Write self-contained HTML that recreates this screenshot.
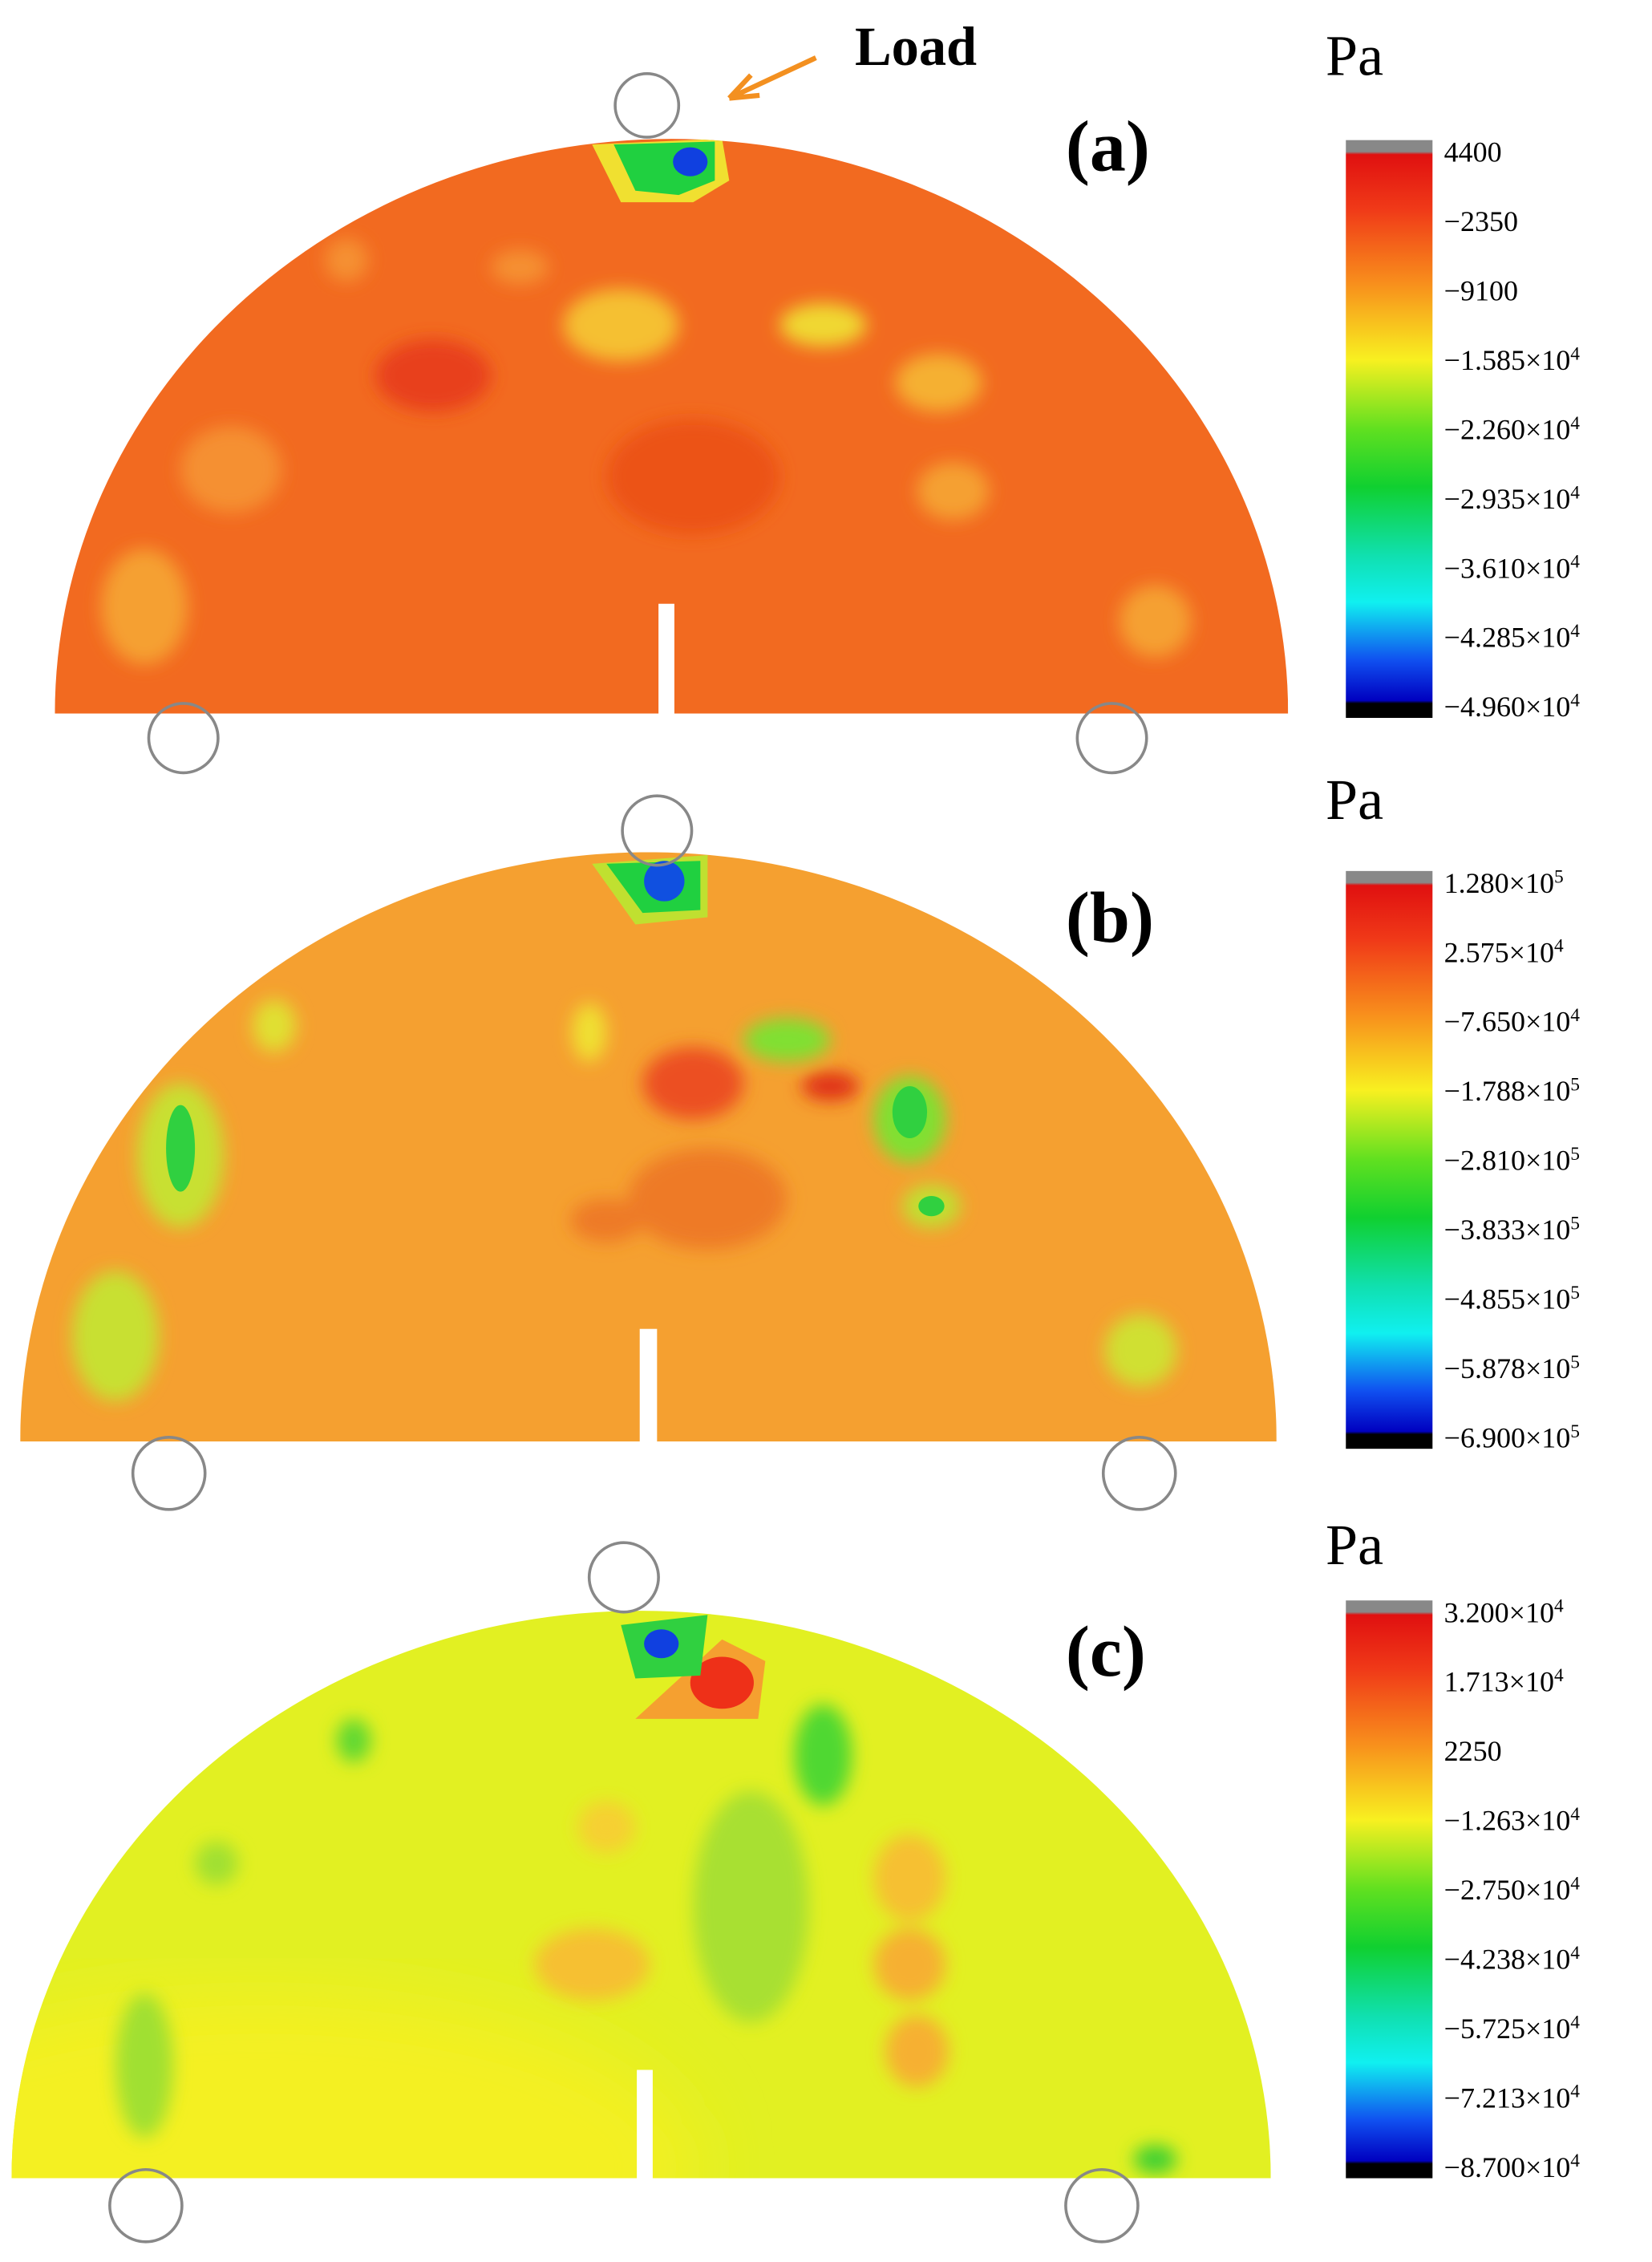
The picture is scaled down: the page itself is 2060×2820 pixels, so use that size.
<!DOCTYPE html>
<html><head><meta charset="utf-8"><style>html,body{margin:0;padding:0;background:#fff}svg{display:block}</style></head>
<body>
<svg width="2060" height="2820" viewBox="0 0 1144 1566" preserveAspectRatio="none" xmlns="http://www.w3.org/2000/svg" font-family="Liberation Serif, serif">
<defs>
<linearGradient id="cb" x1="0" y1="0" x2="0" y2="1">
<stop offset="0" stop-color="#888"/><stop offset="0.02" stop-color="#888"/>
<stop offset="0.025" stop-color="#e01010"/><stop offset="0.12" stop-color="#f03a18"/>
<stop offset="0.25" stop-color="#f8901c"/><stop offset="0.38" stop-color="#f8f020"/>
<stop offset="0.5" stop-color="#60e020"/><stop offset="0.6" stop-color="#10d030"/>
<stop offset="0.72" stop-color="#10e0b0"/><stop offset="0.8" stop-color="#10f0f0"/>
<stop offset="0.9" stop-color="#1050f0"/><stop offset="0.97" stop-color="#0000c0"/>
<stop offset="0.975" stop-color="#000"/><stop offset="1" stop-color="#000"/>
</linearGradient>
<clipPath id="ca"><path d="M38 494 A427 398 0 0 1 892 494 Z"/></clipPath>
<clipPath id="cbp"><path d="M14 998 A435 408 0 0 1 884 998 Z"/></clipPath>
<clipPath id="cc"><path d="M8 1508 A436 393 0 0 1 880 1508 Z"/></clipPath>
<filter id="bl"><feGaussianBlur stdDeviation="6"/></filter>
<filter id="bl2"><feGaussianBlur stdDeviation="25"/></filter>
</defs>

<!-- (a) -->
<g clip-path="url(#ca)">
<rect x="0" y="90" width="900" height="410" fill="#f26a20"/>
<g filter="url(#bl)">
<ellipse cx="300" cy="260" rx="40" ry="25" fill="#e8401a"/>
<ellipse cx="480" cy="330" rx="60" ry="40" fill="#ec5218"/>
<ellipse cx="430" cy="225" rx="40" ry="25" fill="#f5c030"/>
<ellipse cx="570" cy="225" rx="30" ry="15" fill="#f0d830"/>
<ellipse cx="650" cy="265" rx="30" ry="20" fill="#f5b030"/>
<ellipse cx="160" cy="325" rx="35" ry="30" fill="#f59030"/>
<ellipse cx="100" cy="420" rx="30" ry="40" fill="#f5a030"/>
<ellipse cx="660" cy="340" rx="25" ry="20" fill="#f5a030"/>
<ellipse cx="800" cy="430" rx="25" ry="25" fill="#f5a030"/>
<ellipse cx="240" cy="180" rx="15" ry="15" fill="#f59030"/>
<ellipse cx="360" cy="185" rx="20" ry="12" fill="#f59030"/>
</g>
<path d="M410 100 L500 96 L505 125 L480 140 L430 140 Z" fill="#f0e030"/>
<path d="M425 100 L495 98 L495 125 L470 135 L440 132 Z" fill="#20d040"/>
<ellipse cx="478" cy="112" rx="12" ry="10" fill="#1040e0"/>
</g>
<rect x="456" y="418" width="11" height="78" fill="#fff"/>
<circle cx="448" cy="73" r="22" fill="none" stroke="#888" stroke-width="2"/>
<circle cx="127" cy="511" r="24" fill="none" stroke="#888" stroke-width="2"/>
<circle cx="770" cy="511" r="24" fill="none" stroke="#888" stroke-width="2"/>
<text x="592" y="45" font-size="38" font-weight="bold">Load</text>
<path d="M565 40 L505 68 M505 68 L520 52 M505 68 L526 66" stroke="#f39020" stroke-width="3.5" fill="none"/>
<text x="738" y="118" font-size="50" font-weight="bold">(a)</text>

<!-- (b) -->
<g clip-path="url(#cbp)">
<rect x="0" y="585" width="900" height="420" fill="#f5a030"/>
<g filter="url(#bl)">
<ellipse cx="490" cy="830" rx="55" ry="35" fill="#ee7a25"/>
<ellipse cx="480" cy="750" rx="35" ry="25" fill="#ec5020"/>
<ellipse cx="575" cy="752" rx="20" ry="10" fill="#e03018"/>
<ellipse cx="420" cy="845" rx="25" ry="15" fill="#ee7a25"/>
<ellipse cx="125" cy="800" rx="30" ry="50" fill="#c8e030"/>
<ellipse cx="80" cy="925" rx="30" ry="45" fill="#c8e030"/>
<ellipse cx="790" cy="935" rx="25" ry="25" fill="#d0e030"/>
<ellipse cx="630" cy="775" rx="25" ry="30" fill="#80e030"/>
<ellipse cx="545" cy="720" rx="30" ry="15" fill="#80e030"/>
<ellipse cx="645" cy="835" rx="20" ry="15" fill="#c0e030"/>
<ellipse cx="190" cy="710" rx="15" ry="18" fill="#e0e030"/>
<ellipse cx="408" cy="715" rx="12" ry="20" fill="#f0e030"/>
</g>
<ellipse cx="125" cy="795" rx="10" ry="30" fill="#30d040"/>
<ellipse cx="630" cy="770" rx="12" ry="18" fill="#30d040"/>
<ellipse cx="645" cy="835" rx="9" ry="7" fill="#30d040"/>
<path d="M410 598 L490 592 L490 635 L440 640 Z" fill="#c0e030"/>
<path d="M420 598 L485 596 L485 630 L445 632 Z" fill="#20d040"/>
<ellipse cx="460" cy="610" rx="14" ry="14" fill="#1050e0"/>
</g>
<rect x="443" y="920" width="12" height="80" fill="#fff"/>
<circle cx="455" cy="575" r="24" fill="none" stroke="#888" stroke-width="2"/>
<circle cx="117" cy="1020" r="25" fill="none" stroke="#888" stroke-width="2"/>
<circle cx="789" cy="1020" r="25" fill="none" stroke="#888" stroke-width="2"/>
<text x="738" y="652" font-size="50" font-weight="bold">(b)</text>

<!-- (c) -->
<g clip-path="url(#cc)">
<rect x="0" y="1110" width="900" height="400" fill="#e2f022"/>
<ellipse cx="180" cy="1500" rx="300" ry="120" fill="#f4f020" filter="url(#bl2)"/>
<g filter="url(#bl)">
<ellipse cx="410" cy="1360" rx="40" ry="25" fill="#f6c030"/>
<ellipse cx="630" cy="1300" rx="25" ry="30" fill="#f6c030"/>
<ellipse cx="630" cy="1360" rx="25" ry="25" fill="#f6b030"/>
<ellipse cx="635" cy="1420" rx="22" ry="25" fill="#f6b030"/>
<ellipse cx="420" cy="1265" rx="20" ry="18" fill="#f6d030"/>
<ellipse cx="520" cy="1320" rx="40" ry="80" fill="#a8e030"/>
<ellipse cx="570" cy="1215" rx="20" ry="35" fill="#50d830"/>
<ellipse cx="100" cy="1430" rx="20" ry="50" fill="#a0e030"/>
<ellipse cx="150" cy="1290" rx="15" ry="15" fill="#a0e030"/>
<ellipse cx="245" cy="1205" rx="12" ry="15" fill="#60d830"/>
<ellipse cx="800" cy="1495" rx="15" ry="10" fill="#40d030"/>
</g>
<path d="M440 1190 L500 1135 L530 1150 L525 1190 Z" fill="#f5a030"/>
<ellipse cx="500" cy="1165" rx="22" ry="18" fill="#ee3018"/>
<path d="M430 1125 L490 1118 L485 1160 L440 1162 Z" fill="#30d040"/>
<ellipse cx="458" cy="1138" rx="12" ry="10" fill="#1040e0"/>
</g>
<rect x="441" y="1433" width="11" height="77" fill="#fff"/>
<circle cx="432" cy="1092" r="24" fill="none" stroke="#888" stroke-width="2"/>
<circle cx="101" cy="1527" r="25" fill="none" stroke="#888" stroke-width="2"/>
<circle cx="763" cy="1527" r="25" fill="none" stroke="#888" stroke-width="2"/>
<text x="738" y="1160" font-size="50" font-weight="bold">(c)</text>

<!-- colorbars -->
<g font-size="20">
<text x="918" y="52" font-size="40">Pa</text>
<rect x="932" y="97" width="60" height="400" fill="url(#cb)"/>
<text x="1000" y="112">4400</text>
<text x="1000" y="160">−2350</text>
<text x="1000" y="208">−9100</text>
<text x="1000" y="256">−1.585×10<tspan font-size="13" dy="-7">4</tspan></text>
<text x="1000" y="304">−2.260×10<tspan font-size="13" dy="-7">4</tspan></text>
<text x="1000" y="352">−2.935×10<tspan font-size="13" dy="-7">4</tspan></text>
<text x="1000" y="400">−3.610×10<tspan font-size="13" dy="-7">4</tspan></text>
<text x="1000" y="448">−4.285×10<tspan font-size="13" dy="-7">4</tspan></text>
<text x="1000" y="496">−4.960×10<tspan font-size="13" dy="-7">4</tspan></text>

<text x="918" y="567" font-size="40">Pa</text>
<rect x="932" y="603" width="60" height="400" fill="url(#cb)"/>
<text x="1000" y="618">1.280×10<tspan font-size="13" dy="-7">5</tspan></text>
<text x="1000" y="666">2.575×10<tspan font-size="13" dy="-7">4</tspan></text>
<text x="1000" y="714">−7.650×10<tspan font-size="13" dy="-7">4</tspan></text>
<text x="1000" y="762">−1.788×10<tspan font-size="13" dy="-7">5</tspan></text>
<text x="1000" y="810">−2.810×10<tspan font-size="13" dy="-7">5</tspan></text>
<text x="1000" y="858">−3.833×10<tspan font-size="13" dy="-7">5</tspan></text>
<text x="1000" y="906">−4.855×10<tspan font-size="13" dy="-7">5</tspan></text>
<text x="1000" y="954">−5.878×10<tspan font-size="13" dy="-7">5</tspan></text>
<text x="1000" y="1002">−6.900×10<tspan font-size="13" dy="-7">5</tspan></text>

<text x="918" y="1083" font-size="40">Pa</text>
<rect x="932" y="1108" width="60" height="400" fill="url(#cb)"/>
<text x="1000" y="1123">3.200×10<tspan font-size="13" dy="-7">4</tspan></text>
<text x="1000" y="1171">1.713×10<tspan font-size="13" dy="-7">4</tspan></text>
<text x="1000" y="1219">2250</text>
<text x="1000" y="1267">−1.263×10<tspan font-size="13" dy="-7">4</tspan></text>
<text x="1000" y="1315">−2.750×10<tspan font-size="13" dy="-7">4</tspan></text>
<text x="1000" y="1363">−4.238×10<tspan font-size="13" dy="-7">4</tspan></text>
<text x="1000" y="1411">−5.725×10<tspan font-size="13" dy="-7">4</tspan></text>
<text x="1000" y="1459">−7.213×10<tspan font-size="13" dy="-7">4</tspan></text>
<text x="1000" y="1507">−8.700×10<tspan font-size="13" dy="-7">4</tspan></text>
</g>
</svg>
</body></html>
